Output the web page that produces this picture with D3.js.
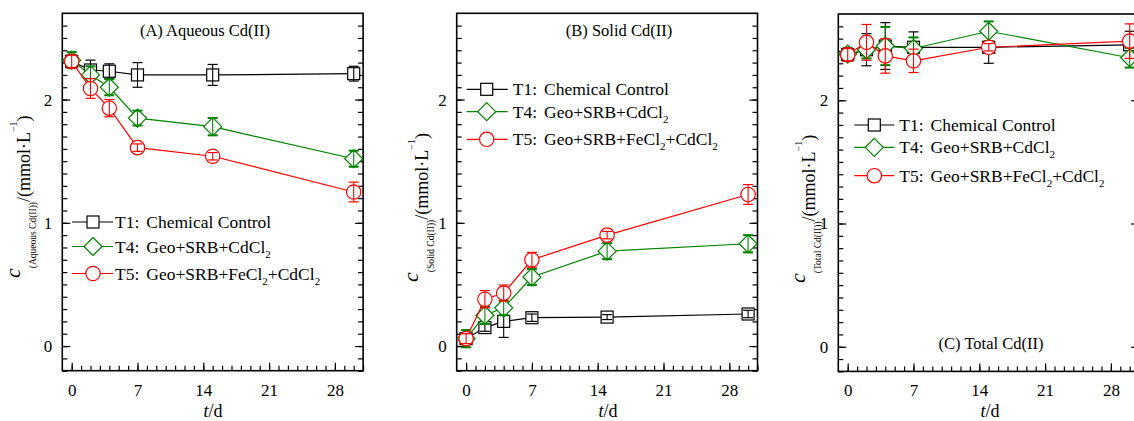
<!DOCTYPE html>
<html>
<head>
<meta charset="utf-8">
<script src="https://cdn.jsdelivr.net/npm/d3@7"></script>
<style>
  body { margin: 0; background: #fff; }
  svg { display: block; }
  svg text { font-family: "Liberation Serif", "Times New Roman", serif; }
</style>
</head>
<body>
<div id="chart"></div>
<script>
// Sampling days (x values) and tick values
var days = [0, 2, 4, 7, 15, 30];
var xMajorTicks = [0, 7, 14, 21, 28];
var yMajorTicks = [0, 1, 2];

// (A) Aqueous Cd(II)
var aqueousT1 = [2.31, 2.24, 2.23, 2.20, 2.20, 2.21];
var aqueousT1Err = [0.05, 0.08, 0.06, 0.10, 0.085, 0.06];
var aqueousT4 = [2.32, 2.20, 2.10, 1.85, 1.78, 1.52];
var aqueousT4Err = [0.065, 0.07, 0.065, 0.06, 0.07, 0.065];
var aqueousT5 = [2.31, 2.09, 1.93, 1.61, 1.54, 1.25];
var aqueousT5Err = [0.05, 0.08, 0.07, 0.03, 0.03, 0.08];

// (B) Solid Cd(II)
var solidT1 = [0.06, 0.15, 0.20, 0.23, 0.235, 0.26];
var solidT1Err = [0.03, 0.03, 0.13, 0.03, 0.02, 0.03];
var solidT4 = [0.06, 0.25, 0.31, 0.56, 0.77, 0.83];
var solidT4Err = [0.07, 0.07, 0.06, 0.065, 0.065, 0.07];
var solidT5 = [0.06, 0.38, 0.43, 0.70, 0.90, 1.23];
var solidT5Err = [0.04, 0.07, 0.065, 0.06, 0.03, 0.08];

// (C) Total Cd(II)
var totalT1 = [2.37, 2.41, 2.44, 2.43, 2.43, 2.45];
var totalT1Err = [0.05, 0.13, 0.19, 0.125, 0.13, 0.11];
var totalT4 = [2.375, 2.41, 2.44, 2.42, 2.56, 2.345];
var totalT4Err = [0.05, 0.07, 0.155, 0.09, 0.08, 0.08];
var totalT5 = [2.37, 2.47, 2.36, 2.32, 2.43, 2.48];
var totalT5Err = [0.05, 0.145, 0.14, 0.095, 0.03, 0.14];

// Legend labels, split into [text, isSubscript] parts
var legendT1 = [["T1:", false], ["Chemical Control", false]];
var legendT4 = [["T4:", false], ["Geo+SRB+CdCl", false], ["2", true]];
var legendT5 = [["T5:", false], ["Geo+SRB+FeCl", false], ["2", true], ["+CdCl", false], ["2", true]];

var width = 1134, height = 421;
var serif = "'Liberation Serif', 'Times New Roman', serif";

var svg = d3.select("#chart")
  .append("svg")
  .attr("width", width)
  .attr("height", height);

// series styles
var seriesStyle = [
  { color: "#000000", shape: "square", legend: legendT1 },
  { color: "#008000", shape: "diamond", legend: legendT4 },
  { color: "#ff0000", shape: "circle", legend: legendT5 }
];

// panel layout
var panels = [
  {
    left: 62.3, top: 13.3, bottom: 370.7,
    series: [[aqueousT1, aqueousT1Err], [aqueousT4, aqueousT4Err], [aqueousT5, aqueousT5Err]],
    title: "(A) Aqueous Cd(II)", titleX: 205, titleY: 36,
    sub: "(Aqueous Cd(II))", labelX: 20, labelY: 278,
    xlabelX: 213,
    legend: { x1: 72, x2: 113, mx: 93, tx: 115, rows: [222, 246.5, 273.5] }
  },
  {
    left: 456.7, top: 13.3, bottom: 370.7,
    series: [[solidT1, solidT1Err], [solidT4, solidT4Err], [solidT5, solidT5Err]],
    title: "(B) Solid Cd(II)", titleX: 619, titleY: 36,
    sub: "(Solid Cd(II))", labelX: 418, labelY: 282,
    xlabelX: 608,
    legend: { x1: 466.7, x2: 507.7, mx: 486.7, tx: 512.7, rows: [89.3, 111.7, 139.3] }
  },
  {
    left: 838.3, top: 14, bottom: 371.4,
    series: [[totalT1, totalT1Err], [totalT4, totalT4Err], [totalT5, totalT5Err]],
    title: "(C) Total Cd(II)", titleX: 991, titleY: 349,
    sub: "(Total Cd(II))", labelX: 805, labelY: 283,
    xlabelX: 990,
    legend: { x1: 854.3, x2: 894.3, mx: 874.3, tx: 899.3, rows: [125, 147.3, 175.7] }
  }
];

function drawMarker(g, shape, x, y, color) {
  if (shape === "square") {
    g.append("rect")
      .attr("x", x - 6).attr("y", y - 6)
      .attr("width", 12).attr("height", 12)
      .attr("fill", "#fff").attr("stroke", color).attr("stroke-width", 1.2);
  } else if (shape === "diamond") {
    g.append("path")
      .attr("d", "M" + x + "," + (y - 9) + "L" + (x + 9) + "," + y + "L" + x + "," + (y + 9) + "L" + (x - 9) + "," + y + "Z")
      .attr("fill", "#fff").attr("stroke", color).attr("stroke-width", 1.2);
  } else {
    g.append("circle")
      .attr("cx", x).attr("cy", y).attr("r", 7.2)
      .attr("fill", "#fff").attr("stroke", color).attr("stroke-width", 1.2);
  }
}

var tenths = d3.range(-2, 27, 1).map(function(v) { return v / 10; });

panels.forEach(function(p) {
  var xScale = d3.scaleLinear().domain([-1, 31]).range([p.left, p.left + 300.8]);
  var yScale = d3.scaleLinear().domain([-0.2, 2.7]).range([p.bottom, p.top]);
  var g = svg.append("g");

  // minor ticks (inward)
  g.append("g")
    .attr("transform", "translate(0," + p.bottom + ")")
    .call(d3.axisBottom(xScale).tickValues(d3.range(0, 32, 1)).tickSize(-5).tickFormat(""))
    .call(function(a) { a.select(".domain").remove(); });
  g.append("g")
    .attr("transform", "translate(" + p.left + ",0)")
    .call(d3.axisLeft(yScale).tickValues(tenths).tickSize(-5).tickFormat(""))
    .call(function(a) { a.select(".domain").remove(); });
  g.append("g")
    .attr("transform", "translate(" + (p.left + 300.8) + ",0)")
    .call(d3.axisRight(yScale).tickValues(tenths).tickSize(-5).tickFormat(""))
    .call(function(a) { a.select(".domain").remove(); });

  // major ticks with labels
  g.append("g")
    .attr("class", "xaxis")
    .attr("transform", "translate(0," + p.bottom + ")")
    .call(d3.axisBottom(xScale).tickValues(xMajorTicks).tickSize(-8).tickPadding(13).tickFormat(d3.format("d")))
    .call(function(a) { a.select(".domain").remove(); });
  g.append("g")
    .attr("class", "yaxis")
    .attr("transform", "translate(" + p.left + ",0)")
    .call(d3.axisLeft(yScale).tickValues(yMajorTicks).tickSize(-8).tickPadding(10).tickFormat(d3.format("d")))
    .call(function(a) { a.select(".domain").remove(); });
  g.append("g")
    .attr("transform", "translate(" + (p.left + 300.8) + ",0)")
    .call(d3.axisRight(yScale).tickValues(yMajorTicks).tickSize(-8).tickFormat(""))
    .call(function(a) { a.select(".domain").remove(); });

  g.selectAll("g").attr("font-family", serif);
  g.selectAll(".tick line").attr("stroke", "#000").attr("stroke-width", 1.2);
  g.selectAll(".tick text")
    .attr("fill", "#000")
    .attr("font-size", 17)
    .attr("font-family", serif);

  // frame
  g.append("rect")
    .attr("x", p.left).attr("y", p.top)
    .attr("width", 300.8).attr("height", p.bottom - p.top)
    .attr("fill", "none").attr("stroke", "#000").attr("stroke-width", 1.6);

  // series
  var lineGenerator = d3.line()
    .x(function(d) { return xScale(d.day); })
    .y(function(d) { return yScale(d.value); });

  p.series.forEach(function(s, i) {
    var st = seriesStyle[i];
    var pts = days.map(function(d, k) { return { day: d, value: s[0][k], err: s[1][k] }; });
    var sg = g.append("g");

    sg.append("path")
      .datum(pts)
      .attr("d", lineGenerator)
      .attr("fill", "none")
      .attr("stroke", st.color)
      .attr("stroke-width", 1.2);

    pts.forEach(function(d) {
      drawMarker(sg, st.shape, xScale(d.day), yScale(d.value), st.color);
    });

    // error bars on top of markers
    pts.forEach(function(d) {
      var x = xScale(d.day), y1 = yScale(d.value + d.err), y2 = yScale(d.value - d.err);
      sg.append("line").attr("x1", x).attr("x2", x).attr("y1", y1).attr("y2", y2)
        .attr("stroke", st.color).attr("stroke-width", 1.1);
      sg.append("line").attr("x1", x - 5).attr("x2", x + 5).attr("y1", y1).attr("y2", y1)
        .attr("stroke", st.color).attr("stroke-width", i === 1 ? 2 : 1.2);
      sg.append("line").attr("x1", x - 5).attr("x2", x + 5).attr("y1", y2).attr("y2", y2)
        .attr("stroke", st.color).attr("stroke-width", i === 1 ? 2 : 1.2);
    });

    // legend entry
    var ly = p.legend.rows[i];
    g.append("line")
      .attr("x1", p.legend.x1).attr("x2", p.legend.x2)
      .attr("y1", ly).attr("y2", ly)
      .attr("stroke", st.color).attr("stroke-width", 1.2);
    drawMarker(g, st.shape, p.legend.mx, ly, st.color);
    var lt = g.append("text")
      .attr("x", p.legend.tx).attr("y", ly + 6)
      .attr("font-family", serif)
      .attr("font-size", 17.5)
      .attr("fill", "#000");
    var shifted = false;
    st.legend.forEach(function(part, k) {
      var t = lt.append("tspan").text(part[0]);
      if (k === 1) t.attr("dx", 7);
      if (part[1]) {
        t.attr("font-size", 11).attr("dy", 5);
        shifted = true;
      } else if (shifted) {
        t.attr("dy", -5);
        shifted = false;
      }
    });
  });

  // panel title
  g.append("text")
    .attr("x", p.titleX).attr("y", p.titleY)
    .attr("text-anchor", "middle")
    .attr("font-family", serif)
    .attr("font-size", 16.5)
    .text(p.title);

  // x axis label
  var xl = g.append("text")
    .attr("x", p.xlabelX).attr("y", 417)
    .attr("text-anchor", "middle")
    .attr("font-family", serif)
    .attr("font-size", 18);
  xl.append("tspan").attr("font-style", "italic").text("t");
  xl.append("tspan").text("/d");

  // y axis label
  var yl = g.append("text")
    .attr("transform", "translate(" + p.labelX + "," + p.labelY + ") rotate(-90)")
    .attr("text-anchor", "start")
    .attr("font-family", serif)
    .attr("font-size", 18);
  yl.append("tspan").attr("font-style", "italic").attr("font-size", 22).text("c");
  yl.append("tspan").attr("font-size", 9.5).attr("dy", 16).text(p.sub);
  yl.append("tspan").attr("dy", -6).text("/(mmol\u00b7L");
  yl.append("tspan").attr("font-size", 10).attr("dy", -13.5).text("\u22121");
  yl.append("tspan").attr("dy", 13.5).text(")");
});
</script>
</body>
</html>
